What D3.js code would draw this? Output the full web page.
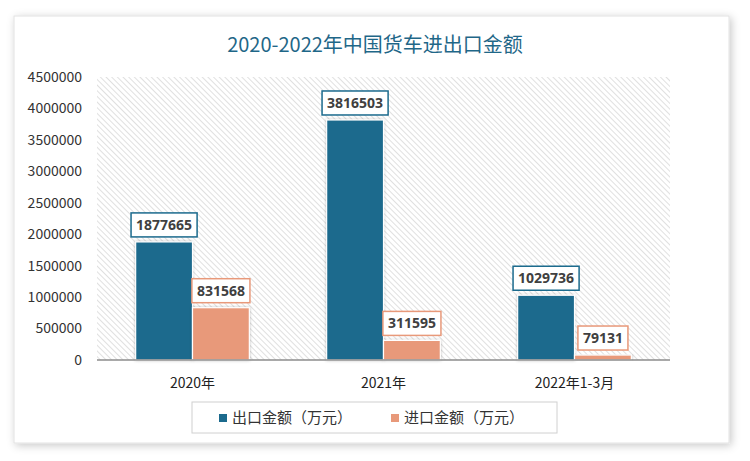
<!DOCTYPE html>
<html>
<head>
<meta charset="utf-8">
<script src="https://cdn.jsdelivr.net/npm/d3@7"></script>
<style>
  body { margin: 0; background: #fff; }
  svg { display: block; }
</style>
</head>
<body>
<svg id="chart" width="750" height="461"></svg>
<script>
// chart data
const categories = ["2020年", "2021年", "2022年1-3月"];
const seriesNames = ["出口金额（万元）", "进口金额（万元）"];
const exportValues = [1877665, 3816503, 1029736];
const importValues = [831568, 311595, 79131];
const yTicks = [0, 500000, 1000000, 1500000, 2000000, 2500000, 3000000, 3500000, 4000000, 4500000];

const colors = ["#1b6a8d", "#e8997a"];
const svg = d3.select("#chart");
const font = "'Noto Sans CJK SC', 'Noto Sans', sans-serif";

// card with shadow
const defs = svg.append("defs");
const shadow = defs.append("filter").attr("id", "shadow")
    .attr("x", "-5%").attr("y", "-5%").attr("width", "110%").attr("height", "110%");
shadow.append("feDropShadow").attr("dx", 2).attr("dy", 2).attr("stdDeviation", 4)
    .attr("flood-color", "#000").attr("flood-opacity", 0.22);

const hatch = defs.append("pattern").attr("id", "hatch")
    .attr("patternUnits", "userSpaceOnUse").attr("width", 4).attr("height", 4)
    .attr("patternTransform", "rotate(-45)");
hatch.append("rect").attr("width", 4).attr("height", 4).attr("fill", "#fff");
hatch.append("line").attr("x1", 0).attr("y1", 0).attr("x2", 0).attr("y2", 4)
    .attr("stroke", "#d9d9d9").attr("stroke-width", 1.6);

const barShadow = defs.append("filter").attr("id", "barShadow")
    .attr("x", "-20%").attr("y", "-20%").attr("width", "140%").attr("height", "140%");
barShadow.append("feDropShadow").attr("dx", 0).attr("dy", 0).attr("stdDeviation", 1.5)
    .attr("flood-color", "#000").attr("flood-opacity", 0.25);

svg.append("rect")
    .attr("x", 14).attr("y", 16).attr("width", 715).attr("height", 427)
    .attr("fill", "#fff").attr("stroke", "#e2e2e2").attr("stroke-width", 1)
    .attr("filter", "url(#shadow)");

// title
svg.append("text")
    .attr("x", 375).attr("y", 52)
    .attr("text-anchor", "middle")
    .attr("font-family", "'Noto Sans CJK SC', serif")
    .attr("font-size", 20)
    .attr("fill", "#1f6788")
    .text("2020-2022年中国货车进出口金额");

// plot area
const plot = { left: 97, right: 670, top: 77, bottom: 360 };

const x = d3.scaleBand().domain(categories).range([plot.left, plot.right]);
const inner = d3.scaleBand().domain([0, 1]).range([0, x.bandwidth()]).paddingInner(0).paddingOuter(0.68);
const y = d3.scaleLinear().domain([0, 4500000]).range([plot.bottom, plot.top]);

svg.append("rect")
    .attr("x", plot.left).attr("y", plot.top)
    .attr("width", plot.right - plot.left).attr("height", plot.bottom - plot.top)
    .attr("fill", "url(#hatch)");

// y axis labels
svg.append("g")
    .selectAll("text")
    .data(yTicks)
    .join("text")
    .attr("x", 82)
    .attr("y", d => y(d))
    .attr("dy", "0.35em")
    .attr("text-anchor", "end")
    .attr("font-family", font)
    .attr("font-size", 14)
    .attr("fill", "#333")
    .text(d => d);

// bars
const rows = [];
categories.forEach((c, i) => {
    rows.push({ cat: c, s: 0, v: exportValues[i] });
    rows.push({ cat: c, s: 1, v: importValues[i] });
});

svg.append("g")
    .selectAll("rect")
    .data(rows)
    .join("rect")
    .attr("x", d => x(d.cat) + inner(d.s))
    .attr("y", d => y(d.v))
    .attr("width", inner.bandwidth())
    .attr("height", d => y(0) - y(d.v))
    .attr("fill", d => colors[d.s])
    .attr("stroke", "#fff")
    .attr("stroke-width", 1.2)
    .attr("filter", "url(#barShadow)");

// axis line
svg.append("line")
    .attr("x1", plot.left).attr("x2", plot.right)
    .attr("y1", plot.bottom).attr("y2", plot.bottom)
    .attr("stroke", "#8c8c8c").attr("stroke-width", 1.5);

// value labels
const labels = svg.append("g").selectAll("g")
    .data(rows)
    .join("g")
    .attr("transform", d => `translate(${x(d.cat) + inner(d.s) + inner.bandwidth() / 2},${y(d.v) - 17})`);

labels.append("text")
    .attr("text-anchor", "middle")
    .attr("dy", "0.36em")
    .attr("font-family", "'Open Sans', 'Noto Sans', sans-serif")
    .attr("font-weight", "bold")
    .attr("font-size", 14)
    .attr("fill", "#404040")
    .text(d => d.v);

labels.each(function (d) {
    const g = d3.select(this);
    const bb = g.select("text").node().getBBox();
    g.insert("rect", "text")
        .attr("x", bb.x - 5).attr("y", -12)
        .attr("width", bb.width + 10).attr("height", 24)
        .attr("fill", "#fff")
        .attr("stroke", colors[d.s])
        .attr("stroke-width", 1.5);
});

// x labels
svg.append("g")
    .selectAll("text")
    .data(categories)
    .join("text")
    .attr("x", d => x(d) + x.bandwidth() / 2)
    .attr("y", 383)
    .attr("dy", "0.35em")
    .attr("text-anchor", "middle")
    .attr("font-family", font)
    .attr("font-size", 14)
    .attr("fill", "#222")
    .text(d => d);

// legend
svg.append("rect")
    .attr("x", 192).attr("y", 402).attr("width", 365).attr("height", 31)
    .attr("fill", "#fff").attr("stroke", "#d0d0d0").attr("stroke-width", 1);

const legendX = [219, 391];
const legend = svg.append("g").selectAll("g")
    .data(seriesNames)
    .join("g")
    .attr("transform", (d, i) => `translate(${legendX[i]},418)`);
legend.append("rect")
    .attr("x", 0).attr("y", -4).attr("width", 8).attr("height", 8)
    .attr("fill", (d, i) => colors[i]);
legend.append("text")
    .attr("x", 13).attr("dy", "0.35em")
    .attr("font-family", font)
    .attr("font-size", 15)
    .attr("fill", "#333")
    .text(d => d);
</script>
</body>
</html>
